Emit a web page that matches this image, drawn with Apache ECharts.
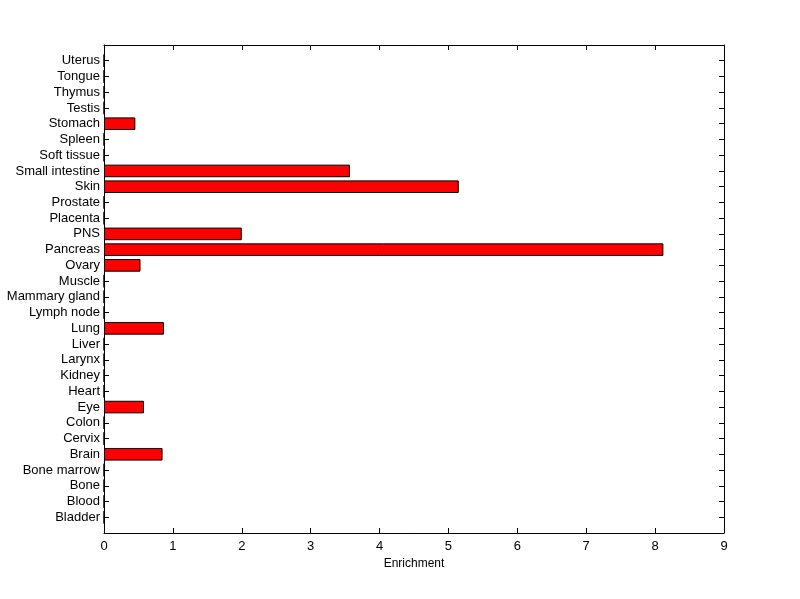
<!DOCTYPE html>
<html>
<head>
<meta charset="utf-8">
<script src="https://cdn.jsdelivr.net/npm/echarts@6/dist/echarts.min.js"></script>
<style>
  html, body { margin: 0; padding: 0; background: #fff; }
  #chart { width: 800px; height: 599px; }
</style>
</head>
<body>
<div id="chart"></div>
<script>
// tissues, bottom to top
const tissues = [
  'Bladder', 'Blood', 'Bone', 'Bone marrow', 'Brain', 'Cervix', 'Colon', 'Eye',
  'Heart', 'Kidney', 'Larynx', 'Liver', 'Lung', 'Lymph node', 'Mammary gland',
  'Muscle', 'Ovary', 'Pancreas', 'PNS', 'Placenta', 'Prostate', 'Skin',
  'Small intestine', 'Soft tissue', 'Spleen', 'Stomach', 'Testis', 'Thymus',
  'Tongue', 'Uterus'
];
const enrichment = [
  0, 0, 0, 0, 0.85, 0, 0, 0.58,
  0, 0, 0, 0, 0.87, 0, 0,
  0, 0.53, 8.12, 2.0, 0, 0, 5.15,
  3.57, 0, 0, 0.455, 0, 0,
  0, 0
];
const xTicks = [0, 1, 2, 3, 4, 5, 6, 7, 8, 9];

// pad with an empty slot at each end, like matlab's 0..31 range
const cats = [''].concat(tissues, ['']);
const vals = [null].concat(enrichment, [null]);

const font = 'Liberation Sans, Arial, sans-serif';
const chart = echarts.init(document.getElementById('chart'));

const yBase = {
  type: 'category',
  data: cats,
  boundaryGap: false,
  axisLine: { onZero: false, lineStyle: { color: '#000', width: 1 } },
  axisTick: { inside: true, length: 5, interval: 0, lineStyle: { color: '#000' } },
  splitLine: { show: false }
};
const xBase = {
  type: 'value',
  min: 0,
  max: 9,
  interval: 1,
  axisLine: { show: true, onZero: false, lineStyle: { color: '#000', width: 1 } },
  axisTick: { show: true, inside: true, length: 5, lineStyle: { color: '#000' } },
  splitLine: { show: false }
};

chart.setOption({
  backgroundColor: '#fff',
  animation: false,
  grid: { left: 104, right: 76, top: 45, bottom: 66, containLabel: false },
  xAxis: [
    Object.assign({}, xBase, {
      position: 'bottom',
      name: 'Enrichment',
      nameLocation: 'middle',
      nameGap: 23,
      nameTextStyle: { color: '#000', fontFamily: font, fontSize: 12 },
      axisLabel: { color: '#000', fontFamily: font, fontSize: 13, margin: 7,
        formatter: v => xTicks.includes(v) ? String(v) : '' }
    }),
    Object.assign({}, xBase, { position: 'top', axisLabel: { show: false } })
  ],
  yAxis: [
    Object.assign({}, yBase, {
      position: 'left',
      axisLabel: { color: '#000', fontFamily: font, fontSize: 13, margin: 4, interval: 0 }
    }),
    Object.assign({}, yBase, { position: 'right', axisLabel: { show: false } })
  ],
  series: [{
    type: 'bar',
    data: vals,
    barWidth: '80%',
    itemStyle: { color: '#ff0000', borderColor: '#000', borderWidth: 1 },
    z: 1
  }]
});
</script>
</body>
</html>
